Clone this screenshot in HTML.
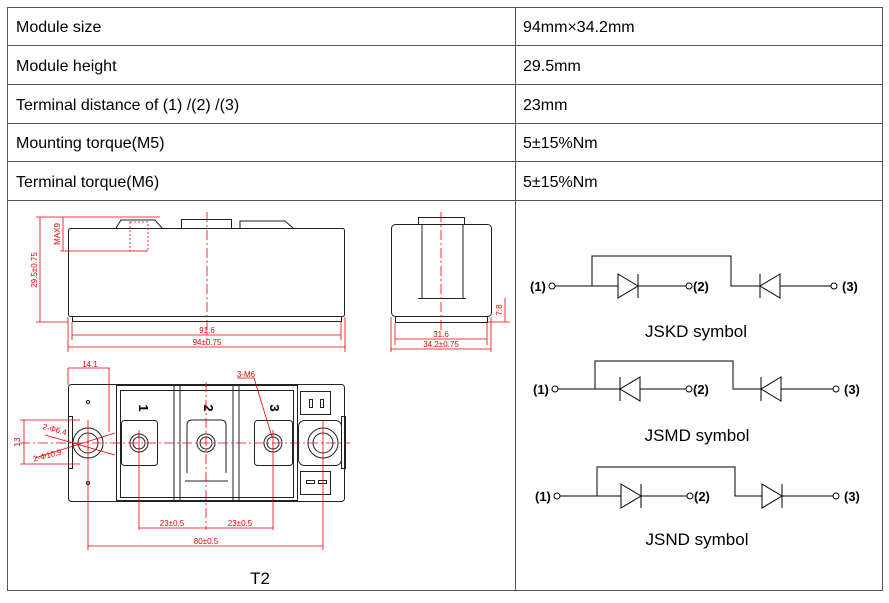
<!DOCTYPE html>
<html><head><meta charset="utf-8"><style>
html,body{margin:0;padding:0;background:#fff;}
svg{display:block;}
</style></head><body>
<svg width="889" height="603" viewBox="0 0 889 603" xmlns="http://www.w3.org/2000/svg" font-family="Liberation Sans, Arial, sans-serif">
<!-- table -->
<g stroke="#555" stroke-width="1" fill="none">
<rect x="7.5" y="7.5" width="875" height="583"/>
<line x1="7" y1="45.5" x2="882" y2="45.5"/>
<line x1="7" y1="84.5" x2="882" y2="84.5"/>
<line x1="7" y1="123.5" x2="882" y2="123.5"/>
<line x1="7" y1="161.5" x2="882" y2="161.5"/>
<line x1="7" y1="200.5" x2="882" y2="200.5"/>
<line x1="515.5" y1="7" x2="515.5" y2="590"/>
</g>
<g font-size="16" fill="#000">
<text x="16" y="32">Module size</text><text x="523" y="32">94mm×34.2mm</text>
<text x="16" y="71">Module height</text><text x="523" y="71">29.5mm</text>
<text x="16" y="110">Terminal distance of (1) /(2) /(3)</text><text x="523" y="110">23mm</text>
<text x="16" y="148">Mounting torque(M5)</text><text x="523" y="148">5±15%Nm</text>
<text x="16" y="187">Terminal torque(M6)</text><text x="523" y="187">5±15%Nm</text>
</g>

<!-- symbols -->
<g stroke="#000" stroke-width="1" fill="none">
<!-- JSKD -->
<path d="M555 286H592V256H731V286H831"/>
<path d="M592 286H686"/>
<circle cx="552" cy="286" r="3" fill="#fff"/><circle cx="689" cy="286" r="3" fill="#fff"/><circle cx="834" cy="286" r="3" fill="#fff"/>
<path d="M618 274L638 286L618 298Z" fill="#fff"/><line x1="638" y1="274" x2="638" y2="298"/>
<path d="M780 274L760 286L780 298Z" fill="#fff"/><line x1="760" y1="274" x2="760" y2="298"/>
<!-- JSMD -->
<path d="M558 389H595V361H733V389H833"/>
<path d="M595 389H686"/>
<circle cx="555" cy="389" r="3" fill="#fff"/><circle cx="689" cy="389" r="3" fill="#fff"/><circle cx="836" cy="389" r="3" fill="#fff"/>
<path d="M640 377L620 389L640 401Z" fill="#fff"/><line x1="620" y1="377" x2="620" y2="401"/>
<path d="M781 377L761 389L781 401Z" fill="#fff"/><line x1="761" y1="377" x2="761" y2="401"/>
<!-- JSND -->
<path d="M560 496H597V467H735V496H833"/>
<path d="M597 496H687"/>
<circle cx="557" cy="496" r="3" fill="#fff"/><circle cx="690" cy="496" r="3" fill="#fff"/><circle cx="836" cy="496" r="3" fill="#fff"/>
<path d="M621 484L641 496L621 508Z" fill="#fff"/><line x1="641" y1="484" x2="641" y2="508"/>
<path d="M762 484L782 496L762 508Z" fill="#fff"/><line x1="782" y1="484" x2="782" y2="508"/>
</g>
<g font-size="13" font-weight="bold" fill="#000">
<text x="530" y="291">(1)</text><text x="693" y="291">(2)</text><text x="842" y="291">(3)</text>
<text x="533" y="394">(1)</text><text x="693" y="394">(2)</text><text x="844" y="394">(3)</text>
<text x="535" y="501">(1)</text><text x="694" y="501">(2)</text><text x="844" y="501">(3)</text>
</g>
<g font-size="17" fill="#000" text-anchor="middle">
<text x="696" y="337">JSKD symbol</text>
<text x="697" y="441">JSMD symbol</text>
<text x="697" y="545">JSND symbol</text>
<text x="260" y="584">T2</text>
</g>

<!-- top view -->
<g stroke="#222" stroke-width="1" fill="none">
<rect x="68.5" y="228.5" width="276" height="88" rx="2"/>
<rect x="72.5" y="316.5" width="269" height="5"/>
<path d="M116 228L121 220H155L162 228"/>
<rect x="181.5" y="219.5" width="50" height="9"/>
<path d="M240 228V221H285L293 228"/>
<rect x="391.5" y="224.5" width="100" height="92" rx="4"/>
<rect x="395.5" y="316.5" width="92" height="6"/>
<rect x="418.5" y="217.5" width="46" height="7"/>
<line x1="422" y1="225" x2="422" y2="298"/><line x1="463" y1="225" x2="463" y2="298"/>
<line x1="418" y1="298.5" x2="466" y2="298.5"/>
</g>
<g stroke="#e00" stroke-width="0.8" fill="none">
<line x1="207" y1="212" x2="207" y2="340" stroke-dasharray="10,3,2,3"/>
<line x1="441" y1="212" x2="441" y2="330" stroke-dasharray="10,3,2,3"/>
<line x1="40" y1="217" x2="40" y2="322"/>
<line x1="36" y1="217" x2="160" y2="217"/>
<line x1="36" y1="322" x2="68" y2="322"/>
<line x1="63" y1="217" x2="63" y2="251"/>
<line x1="60" y1="251" x2="148" y2="251"/>
<rect x="130" y="222" width="18" height="29" stroke-dasharray="2,2"/>
<line x1="72" y1="322" x2="72" y2="340"/><line x1="341" y1="322" x2="341" y2="340"/>
<line x1="68" y1="317" x2="68" y2="352"/><line x1="345" y1="317" x2="345" y2="352"/>
<line x1="72" y1="335" x2="341" y2="335"/>
<line x1="68" y1="347" x2="345" y2="347"/>
<line x1="395" y1="323" x2="395" y2="345"/><line x1="487" y1="323" x2="487" y2="345"/>
<line x1="391" y1="317" x2="391" y2="352"/><line x1="491" y1="317" x2="491" y2="352"/>
<line x1="395" y1="339" x2="487" y2="339"/>
<line x1="391" y1="349" x2="491" y2="349"/>
<line x1="505" y1="298" x2="505" y2="322"/>
<line x1="488" y1="322" x2="510" y2="322"/>
</g>
<g fill="#e00" font-size="8" text-anchor="middle">
<text x="207" y="333">91.6</text>
<text x="207" y="345">94±0.75</text>
<text x="441" y="337">31.6</text>
<text x="441" y="347">34.2±0.75</text>
<text transform="translate(37,270) rotate(-90)">29.5±0.75</text>
<text transform="translate(60,234) rotate(-90)">MAX9</text>
<text transform="translate(502,310) rotate(-90)">7.8</text>
</g>

<!-- bottom view -->
<g stroke="#222" stroke-width="1" fill="none">
<rect x="68.5" y="384.5" width="276" height="117" rx="3"/>
<rect x="116.5" y="385.5" width="181" height="115"/>
<rect x="120.5" y="390.5" width="173" height="107"/>
<line x1="174" y1="386" x2="174" y2="500"/><line x1="180" y1="386" x2="180" y2="500"/>
<line x1="233" y1="386" x2="233" y2="500"/><line x1="239" y1="386" x2="239" y2="500"/>
<rect x="121.5" y="420.5" width="36" height="45" rx="3"/>
<path d="M187 473V425Q187 420 192 420H221Q226 420 226 425V473"/><line x1="185" y1="481" x2="228" y2="481"/>
<rect x="254.5" y="420.5" width="38" height="45" rx="3"/>
<rect x="298.5" y="420.5" width="43" height="45" rx="6"/>
<rect x="300.5" y="391.5" width="30" height="23"/><rect x="300.5" y="471.5" width="30" height="23"/>
<rect x="309.5" y="399.5" width="3" height="8"/><rect x="320.5" y="399.5" width="3" height="8"/>
<rect x="306.5" y="480.5" width="8" height="3"/><rect x="318.5" y="480.5" width="8" height="3"/>
<circle cx="88" cy="443" r="15"/><circle cx="88" cy="443" r="10"/>
<circle cx="139" cy="443" r="9"/><circle cx="139" cy="443" r="6"/>
<circle cx="206" cy="443" r="9"/><circle cx="206" cy="443" r="6"/>
<circle cx="273" cy="443" r="9"/><circle cx="273" cy="443" r="6"/>
<circle cx="323" cy="443" r="15"/><circle cx="323" cy="443" r="10"/>
<circle cx="88" cy="402" r="1.5"/><circle cx="88" cy="483" r="1.5"/>
<rect x="68.5" y="416.5" width="4" height="52"/><rect x="341.5" y="416.5" width="4" height="52"/>
</g>
<g font-size="13" font-weight="bold" fill="#000" text-anchor="middle">
<text transform="translate(139,408) rotate(90)">1</text>
<text transform="translate(204,408) rotate(90)">2</text>
<text transform="translate(270,408) rotate(90)">3</text>
</g>
<g stroke="#e00" stroke-width="0.8" fill="none">
<line x1="20" y1="443" x2="350" y2="443" stroke-dasharray="10,3,2,3"/>
<line x1="206" y1="382" x2="206" y2="530" stroke-dasharray="10,3,2,3"/>
<line x1="88" y1="420" x2="88" y2="550"/>
<line x1="139" y1="430" x2="139" y2="530"/>
<line x1="273" y1="430" x2="273" y2="530"/>
<line x1="323" y1="420" x2="323" y2="550"/>
<line x1="139" y1="528" x2="273" y2="528"/>
<line x1="88" y1="546" x2="323" y2="546"/>
<line x1="68" y1="368" x2="110" y2="368"/>
<line x1="68" y1="368" x2="68" y2="385"/><line x1="109" y1="368" x2="109" y2="432"/>
<line x1="24" y1="420" x2="24" y2="464"/>
<line x1="20" y1="420" x2="80" y2="420"/><line x1="20" y1="464" x2="80" y2="464"/>
<line x1="45" y1="435" x2="115" y2="455"/><line x1="35" y1="458" x2="115" y2="433"/>
<path d="M237 378H254L272 437"/>
</g>
<g fill="#e00" font-size="8" text-anchor="middle">
<text x="90" y="367">14.1</text>
<text x="172" y="526">23±0.5</text>
<text x="240" y="526">23±0.5</text>
<text x="206" y="544">80±0.5</text>
<text x="246" y="377">3-M6</text>
<text transform="translate(20,442) rotate(-90)">13</text>
<text transform="translate(54,432) rotate(15)">2-Φ6.4</text>
<text transform="translate(48,458) rotate(-15)">2-Φ10.9</text>
</g>
</svg>
</body></html>
